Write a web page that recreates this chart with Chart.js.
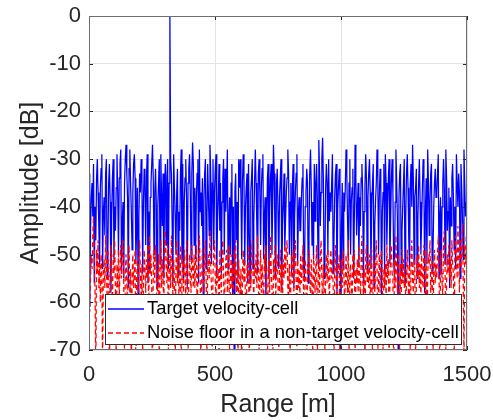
<!DOCTYPE html>
<html>
<head>
<meta charset="utf-8">
<script src="https://cdn.jsdelivr.net/npm/chart.js@4.4.1/dist/chart.umd.min.js"></script>
<style>
  html, body { margin: 0; padding: 0; background: #fff; }
  canvas { display: block; }
</style>
</head>
<body>
<canvas id="chart" width="493" height="420"></canvas>
<script>
// range bins are 3 m apart, from 0 to 1500 m
var rangeStep = 3;

// amplitude [dB] in the target velocity-cell (one row = 60 m)
var targetCell = [
  -33, -61, -45, -38, -35, -42, -31, -56, -40, -47, -34, -30, -37, -44, -52, -36, -32, -29, -53, -41,
  -38, -46, -33, -30, -55, -49, -35, -31, -39, -58, -42, -34, -30, -51, -40, -45, -36, -29, -37, -50,
  -34, -31, -28, -54, -43, -39, -55, -35, -30, -27, -33, -38, -57, -32, -28, -35, -41, -49, -37, -31,
  -29, -34, -52, -44, -36, -60, -42, -33, -37, -30, -35, -54, -39, -32, -36, -48, -34, -29, -56, -41,
  -53, -38, -35, -31, -27, -34, -50, -37, -32, -39, -57, -40, -35, -30, -52, -29, -38, -44, -33, -55,
  -36, -31, -48, -34, -30, -53, -35, 0, -30, -33, -44, -56, -29, -36, -42, -50, -37, -32, -54, -41,
  -45, -33, -28, -52, -31, -55, -39, -34, -30, -38, -57, -35, -32, -29, -37, -51, -33, -26.5, -31, -48,
  -36, -51, -38, -33, -30, -56, -28, -41, -37, -44, -34, -59, -39, -33, -30, -53, -42, -31, -38, -46,
  -27, -33, -52, -35, -30, -49, -37, -32, -29, -55, -43, -38, -31, -45, -35, -54, -39, -34, -30, -50,
  -32, -41, -36, -28, -53, -43, -38, -50, -35, -31, -62, -40, -72, -37, -33, -47, -39, -55, -30, -36,
  -30, -38, -51, -35, -29, -34, -52, -40, -36, -33, -56, -31, -45, -56, -37, -34, -30, -53, -43, -35,
  -28, -35, -44, -54, -33, -30, -37, -48, -36, -32, -29, -51, -42, -38, -60, -45, -34, -31, -55, -40,
  -34, -31, -50, -39, -27, -33, -46, -55, -35, -32, -41, -53, -38, -34, -30, -57, -44, -39, -33, -49,
  -43, -37, -34, -28, -33, -50, -39, -35, -54, -36, -31, -57, -42, -37, -33, -29, -52, -41, -38, -45,
  -45, -38, -34, -31, -53, -55, -40, -37, -32, -35, -56, -46, -33, -28, -36, -48, -39, -51, -31, -43,
  -35, -31, -38, -52, -26, -33, -44, -37, -30, -25.5, -34, -55, -52, -36, -31, -35, -50, -30, -43, -37,
  -41, -35, -29, -54, -47, -38, -33, -31, -58, -40, -36, -32, -38, -72, -44, -35, -53, -37, -41, -36,
  -28, -33, -43, -51, -35, -30, -50, -39, -36, -32, -55, -42, -27, -34, -46, -40, -35, -52, -38, -44,
  -34, -31, -37, -56, -41, -36, -29, -34, -53, -38, -33, -30, -37, -53, -40, -35, -31, -57, -44, -39,
  -35, -28, -34, -50, -38, -32, -36, -60, -41, -37, -31, -54, -29, -35, -48, -40, -34, -30, -52, -43,
  -34, -30, -37, -51, -55, -39, -28, -35, -43, -72, -38, -33, -31, -54, -45, -40, -35, -30, -56, -42,
  -33, -29, -36, -47, -53, -35, -31, -40, -27, -34, -52, -38, -36, -32, -55, -43, -35, -30, -39, -50,
  -43, -36, -30, -34, -58, -41, -34, -52, -28, -35, -46, -39, -33, -31, -54, -50, -40, -35, -32, -38,
  -37, -33, -29, -55, -42, -38, -54, -40, -35, -30, -36, -52, -28, -34, -45, -41, -36, -57, -38, -44,
  -34, -31, -38, -49, -40, -53, -29, -35, -40, -33, -37, -55, -31, -36, -42, -51, -28, -35, -42, -39,
  -44
];

// amplitude [dB] of the noise floor in a non-target velocity-cell (one row = 60 m)
var noiseCell = [
  -48, -62, -55, -50, -53, -46, -42, -51, -58, -75, -49, -54, -47, -57, -52, -60, -50, -55, -74, -53,
  -51, -57, -46, -53, -59, -49, -55, -78, -52, -48, -56, -61, -50, -54, -47, -58, -73, -52, -57, -49,
  -59, -53, -48, -55, -51, -47, -57, -73, -54, -50, -56, -61, -52, -48, -58, -53, -76, -55, -50, -57,
  -53, -49, -76, -55, -51, -58, -50, -47, -54, -60, -52, -72, -56, -49, -53, -58, -51, -55, -48, -62,
  -46, -54, -50, -57, -79, -53, -49, -56, -48, -52, -62, -55, -50, -74, -53, -47, -57, -51, -56, -60,
  -49, -45, -52, -56, -48, -71, -54, -50, -57, -46, -53, -59, -51, -55, -75, -52, -47, -56, -50, -60,
  -53, -48, -77, -55, -51, -58, -49, -54, -60, -47, -52, -73, -56, -50, -54, -58, -48, -53, -57, -50,
  -57, -52, -48, -62, -55, -50, -46, -53, -75, -56, -49, -54, -58, -51, -47, -56, -72, -52, -50, -55,
  -45, -52, -57, -72, -54, -50, -47, -55, -60, -51, -56, -53, -76, -49, -54, -58, -50, -47, -55, -61,
  -56, -51, -49, -58, -54, -48, -73, -55, -50, -57, -52, -61, -49, -55, -47, -58, -53, -74, -51, -56,
  -59, -53, -78, -54, -49, -56, -51, -60, -64, -52, -55, -48, -74, -53, -57, -50, -47, -55, -59, -52,
  -55, -50, -57, -46, -53, -71, -55, -49, -58, -52, -57, -62, -50, -54, -48, -56, -75, -53, -51, -58,
  -46, -53, -57, -76, -51, -55, -48, -59, -53, -50, -56, -73, -54, -49, -58, -52, -60, -51, -55, -48,
  -54, -49, -47, -57, -60, -52, -75, -55, -50, -56, -49, -58, -53, -47, -55, -72, -51, -57, -53, -59,
  -50, -56, -53, -48, -61, -55, -51, -57, -77, -52, -54, -49, -56, -59, -51, -55, -74, -50, -53, -58,
  -53, -48, -74, -56, -51, -58, -50, -47, -55, -63, -52, -57, -71, -54, -50, -56, -49, -55, -60, -52,
  -49, -55, -51, -57, -75, -53, -48, -56, -60, -52, -54, -50, -79, -55, -51, -57, -49, -53, -61, -56,
  -50, -56, -58, -47, -72, -54, -52, -57, -61, -50, -55, -49, -74, -53, -56, -51, -58, -48, -55, -60,
  -51, -46, -55, -59, -53, -76, -50, -48, -56, -52, -57, -50, -62, -54, -49, -73, -55, -51, -58, -53,
  -47, -52, -73, -55, -50, -58, -51, -49, -56, -71, -53, -57, -52, -60, -48, -55, -51, -74, -56, -50,
  -48, -54, -55, -77, -51, -57, -46, -53, -58, -50, -55, -74, -52, -59, -49, -56, -51, -57, -53, -60,
  -56, -49, -54, -62, -52, -75, -50, -47, -55, -58, -51, -53, -72, -56, -50, -55, -48, -57, -52, -59,
  -50, -55, -57, -48, -53, -60, -49, -73, -54, -51, -52, -47, -58, -55, -51, -74, -53, -49, -56, -52,
  -55, -50, -46, -53, -76, -51, -49, -56, -59, -47, -45, -52, -71, -56, -50, -54, -48, -55, -51, -57,
  -47, -52, -54, -74, -49, -46, -51, -55, -44, -50, -58, -47, -53, -49, -43.5, -56, -72, -48, -52, -46,
  -47
];

var xTicks = [0, 500, 1000, 1500];
var yTicks = [0, -10, -20, -30, -40, -50, -60, -70];
var seriesNames = ['Target velocity-cell', 'Noise floor in a non-target velocity-cell'];
var seriesColors = ['rgb(0, 0, 255)', 'rgb(255, 0, 0)'];

var fontFamily = "'Liberation Sans', Arial, Helvetica, sans-serif";

function toPoints(values) {
  return values.map(function(v, i) {
    return { x: i * rangeStep, y: v };
  });
}

// MATLAB look: box around the axes, inward ticks, legend inside the plot
var matlabAxes = {
  id: 'matlabAxes',
  afterDatasetsDraw: function(chart) {
    var c = chart.ctx;
    var a = chart.chartArea;
    var xs = chart.scales.x, ys = chart.scales.y;
    c.save();

    // legend, anchored to the lower right corner of the axes
    var lw = 357, lh = 51;
    var lx = Math.round(a.right) - 5 - lw, ly = Math.round(a.bottom) - 5 - lh;
    c.fillStyle = '#ffffff';
    c.fillRect(lx, ly, lw, lh);
    c.strokeStyle = '#2b2b2b';
    c.lineWidth = 1;
    c.strokeRect(lx + 0.5, ly + 0.5, lw - 1, lh - 1);

    c.lineWidth = 1.3;
    c.strokeStyle = seriesColors[0];
    c.beginPath();
    c.moveTo(lx + 3, ly + 15);
    c.lineTo(lx + 39, ly + 15);
    c.stroke();

    c.strokeStyle = seriesColors[1];
    c.setLineDash([5, 3]);
    c.beginPath();
    c.moveTo(lx + 3, ly + 39);
    c.lineTo(lx + 39, ly + 39);
    c.stroke();
    c.setLineDash([]);

    c.fillStyle = '#000000';
    c.font = '18.4px ' + fontFamily;
    c.textBaseline = 'middle';
    c.textAlign = 'left';
    c.fillText(seriesNames[0], lx + 42, ly + 15);
    c.fillText(seriesNames[1], lx + 42, ly + 39);

    // inward ticks
    c.strokeStyle = '#262626';
    c.lineWidth = 1;
    c.beginPath();
    xTicks.forEach(function(t) {
      var px = Math.round(xs.getPixelForValue(t)) + 0.5;
      c.moveTo(px, a.bottom);
      c.lineTo(px, a.bottom - 4);
      c.moveTo(px, a.top);
      c.lineTo(px, a.top + 4);
    });
    yTicks.forEach(function(t) {
      var py = Math.round(ys.getPixelForValue(t)) + 0.5;
      c.moveTo(a.left, py);
      c.lineTo(a.left + 4, py);
      c.moveTo(a.right, py);
      c.lineTo(a.right - 4, py);
    });
    c.stroke();

    // axes box
    c.strokeStyle = '#6e6e6e';
    c.strokeRect(Math.round(a.left) + 0.5, Math.round(a.top) + 0.5,
      Math.round(a.right - a.left) - 1, Math.round(a.bottom - a.top) - 1);
    c.restore();
  }
};

var chart = new Chart(document.getElementById('chart').getContext('2d'), {
  type: 'line',
  data: {
    datasets: [
      {
        label: seriesNames[0],
        data: toPoints(targetCell),
        borderColor: seriesColors[0],
        borderWidth: 1.25,
        pointRadius: 0,
        tension: 0,
        fill: false,
        clip: 0,
        order: 1
      },
      {
        label: seriesNames[1],
        data: toPoints(noiseCell),
        borderColor: seriesColors[1],
        borderWidth: 1.25,
        borderDash: [5, 3],
        pointRadius: 0,
        tension: 0,
        fill: false,
        clip: 0,
        order: 0
      }
    ]
  },
  options: {
    responsive: false,
    animation: false,
    devicePixelRatio: 1,
    layout: { padding: { top: 16, right: 26, left: 0, bottom: 0 } },
    plugins: {
      legend: { display: false },
      tooltip: { enabled: false }
    },
    scales: {
      x: {
        type: 'linear',
        min: 0,
        max: 1500,
        afterFit: function(s) {
          s.height = 70;
          s.paddingLeft = 0;
          s.paddingRight = 0;
        },
        afterBuildTicks: function(s) { s.ticks = xTicks.map(function(v) { return { value: v }; }); },
        grid: { color: '#e3e3e3', drawTicks: false },
        border: { display: false },
        ticks: {
          padding: 12,
          color: '#262626',
          font: { family: fontFamily, size: 22 },
          maxRotation: 0,
          autoSkip: false,
          callback: function(v) { return String(v); }
        },
        title: {
          display: true,
          text: 'Range [m]',
          color: '#262626',
          font: { family: fontFamily, size: 25 },
          padding: { top: 0, bottom: 0 }
        }
      },
      y: {
        type: 'linear',
        min: -70,
        max: 0,
        afterFit: function(s) {
          s.width = 89;
          s.paddingTop = 0;
          s.paddingBottom = 0;
        },
        afterBuildTicks: function(s) { s.ticks = yTicks.slice().reverse().map(function(v) { return { value: v }; }); },
        grid: { color: '#e3e3e3', drawTicks: false },
        border: { display: false },
        ticks: {
          padding: 8,
          color: '#262626',
          font: { family: fontFamily, size: 22 },
          autoSkip: false,
          callback: function(v) { return String(v); }
        },
        title: {
          display: true,
          text: 'Amplitude [dB]',
          color: '#262626',
          font: { family: fontFamily, size: 25 },
          padding: { top: 16, bottom: 0 }
        }
      }
    }
  },
  plugins: [matlabAxes]
});
</script>
</body>
</html>
